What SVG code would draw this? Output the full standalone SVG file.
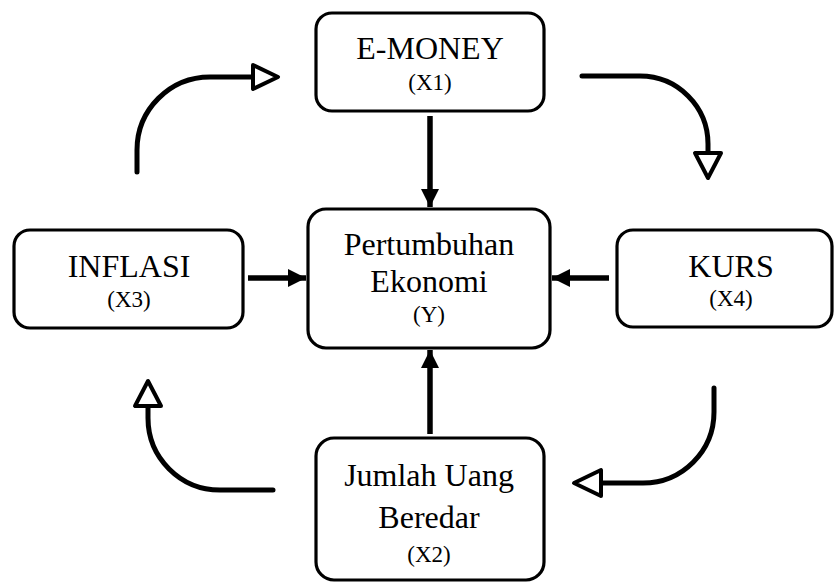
<svg xmlns="http://www.w3.org/2000/svg" width="835" height="583" viewBox="0 0 835 583">
<style>
.box{fill:#fff;stroke:#000;stroke-width:3.2}
.t{font-family:"Liberation Serif","Times New Roman",serif;font-size:32px;fill:#000;text-anchor:middle}
.s{font-family:"Liberation Serif","Times New Roman",serif;font-size:23px;fill:#000;text-anchor:middle}
.ln{fill:none;stroke:#000;stroke-width:5.5}
.cv{fill:none;stroke:#000;stroke-width:5;stroke-linecap:round}
.oh{fill:#fff;stroke:#000;stroke-width:4;stroke-linejoin:round}
</style>
<defs>
<marker id="fa" markerUnits="userSpaceOnUse" markerWidth="18" markerHeight="20" viewBox="0 0 18 20" refX="18" refY="10" orient="auto">
<path d="M0,1 L18,10 L0,19 Z" fill="#000"/>
</marker>
</defs>
<rect width="835" height="583" fill="#fff"/>
<g id="connectors">
<line class="ln" x1="430" y1="116" x2="430" y2="207" marker-end="url(#fa)"/>
<line class="ln" x1="248" y1="278" x2="306" y2="278" marker-end="url(#fa)"/>
<line class="ln" x1="609" y1="278" x2="552" y2="278" marker-end="url(#fa)"/>
<line class="ln" x1="430" y1="434" x2="430" y2="350" marker-end="url(#fa)"/>
<path class="cv" d="M137,172 L137,150 A73,73 0 0 1 210,77 L253,77"/>
<polygon class="oh" points="253,65 278,77 253,89"/>
<path class="cv" d="M582,76 L640,76 A68,68 0 0 1 708,144 L708,153"/>
<polygon class="oh" points="695,153 721,153 708,178"/>
<path class="cv" d="M273,490 L220,490 A72,72 0 0 1 148,418 L148,406"/>
<polygon class="oh" points="135,406 161,406 148,381"/>
<path class="cv" d="M714,388 L714,412 A71,71 0 0 1 643,483 L601,483"/>
<polygon class="oh" points="601,470 601,496 574,483"/>
</g>
<g id="emoney">
<rect class="box" x="316" y="13" width="228" height="98" rx="16"/>
<text class="t" x="430" y="59">E-MONEY</text>
<text class="s" x="430" y="90">(X1)</text>
</g>
<g id="pertumbuhan">
<rect class="box" x="308" y="209" width="242" height="139" rx="18"/>
<text class="t" x="429" y="255">Pertumbuhan</text>
<text class="t" x="429" y="292">Ekonomi</text>
<text class="s" x="429" y="322">(Y)</text>
</g>
<g id="inflasi">
<rect class="box" x="14" y="230" width="229" height="98" rx="16"/>
<text class="t" x="129" y="277">INFLASI</text>
<text class="s" x="129" y="307">(X3)</text>
</g>
<g id="kurs">
<rect class="box" x="617" y="230" width="215" height="97" rx="16"/>
<text class="t" x="731" y="277">KURS</text>
<text class="s" x="731" y="306">(X4)</text>
</g>
<g id="jumlah">
<rect class="box" x="316" y="438" width="228" height="142" rx="18"/>
<text class="t" x="429" y="486">Jumlah Uang</text>
<text class="t" x="429" y="528">Beredar</text>
<text class="s" x="429" y="562">(X2)</text>
</g>
</svg>
